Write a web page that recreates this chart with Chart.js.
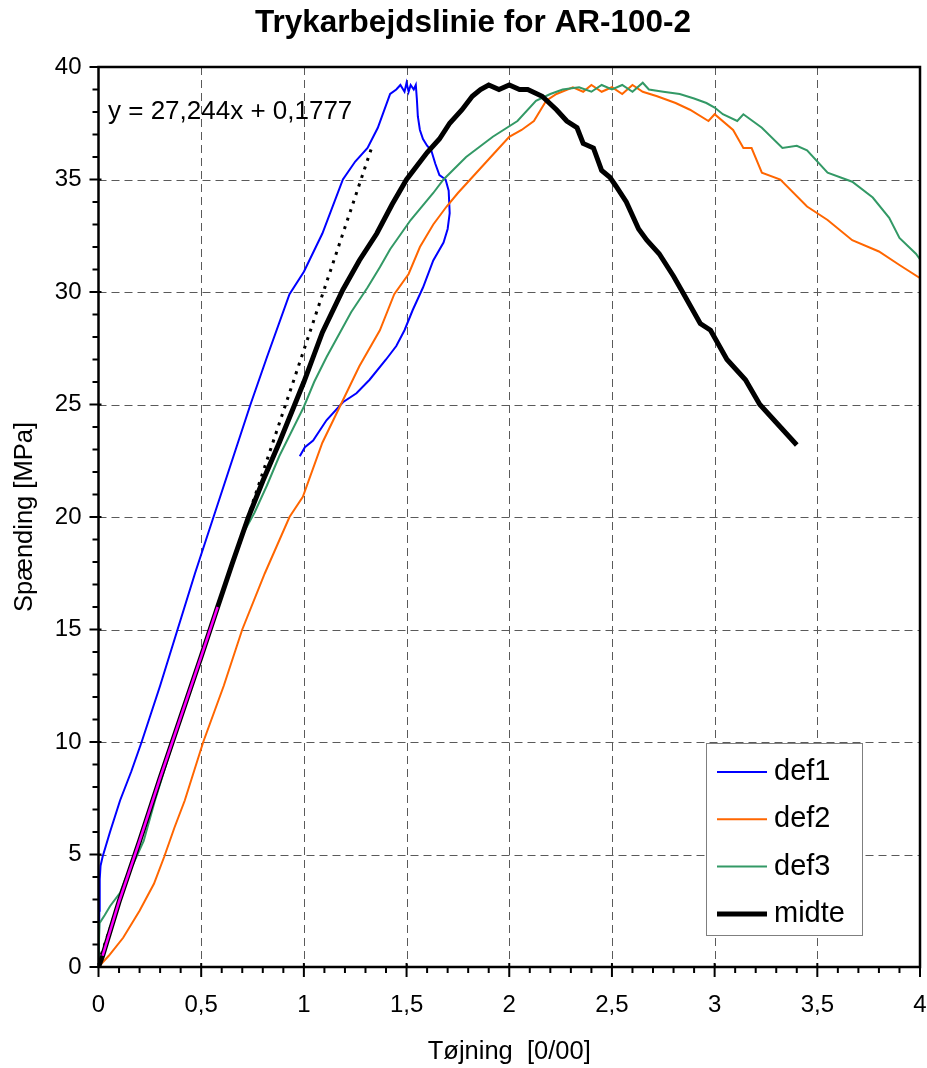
<!DOCTYPE html>
<html>
<head>
<meta charset="utf-8">
<title>Trykarbejdslinie for AR-100-2</title>
<script src="https://cdn.jsdelivr.net/npm/chart.js@4.4.1/dist/chart.umd.min.js"></script>
<style>
  html, body { margin: 0; padding: 0; background: #fff; }
  canvas { display: block; }
</style>
</head>
<body>
<canvas id="chart-stress" width="927" height="1068"></canvas>
<script>
// strain [0/00], stress [MPa] pairs
const def1 = [
    [0, 0], [0.002, 1.0], [0.004, 2.5], [0.006, 3.9], [0.01, 4.5], [0.02, 4.9], [0.056, 6.0],
    [0.105, 7.4], [0.16, 8.7], [0.21, 10], [0.3, 12.5], [0.385, 15], [0.47, 17.5], [0.56, 20],
    [0.65, 22.5], [0.74, 25], [0.82, 27.1], [0.93, 29.9], [1.0, 30.9], [1.09, 32.6], [1.19, 35],
    [1.25, 35.8], [1.31, 36.4], [1.36, 37.3], [1.42, 38.8], [1.45, 39.0], [1.47, 39.2], [1.49, 38.9],
    [1.5, 39.3], [1.51, 38.9], [1.52, 39.2], [1.535, 39.0], [1.545, 39.2], [1.55, 38.6], [1.555, 37.8],
    [1.565, 37.2], [1.58, 36.8], [1.6, 36.5], [1.62, 36.3], [1.64, 35.7], [1.66, 35.2], [1.69, 35.0],
    [1.705, 34.5], [1.71, 33.5], [1.7, 32.8], [1.68, 32.2], [1.63, 31.4], [1.58, 30.2], [1.53, 29.2],
    [1.49, 28.3], [1.45, 27.6], [1.4, 27.0], [1.32, 26.1], [1.256, 25.5], [1.19, 25.1], [1.11, 24.3],
    [1.045, 23.4], [1.005, 23.1], [0.98, 22.7],
];
const def2 = [
    [0, 0], [0.05, 0.5], [0.12, 1.3], [0.2, 2.5], [0.27, 3.7], [0.32, 4.9], [0.37, 6.2], [0.42, 7.4],
    [0.51, 10], [0.61, 12.5], [0.7, 15], [0.81, 17.5], [0.93, 20], [0.995, 20.9], [1.09, 23.3],
    [1.18, 25], [1.27, 26.7], [1.37, 28.3], [1.44, 29.9], [1.51, 30.8], [1.565, 32], [1.63, 33],
    [1.695, 33.8], [1.75, 34.4], [1.81, 35], [1.87, 35.6], [1.94, 36.3], [2.0, 36.9], [2.06, 37.2],
    [2.12, 37.6], [2.18, 38.5], [2.23, 38.8], [2.31, 39.1], [2.36, 38.9], [2.4, 39.2], [2.45, 38.9],
    [2.5, 39.1], [2.55, 38.8], [2.6, 39.2], [2.65, 38.9], [2.72, 38.7], [2.81, 38.4], [2.88, 38.1],
    [2.97, 37.6], [3.0, 37.9], [3.09, 37.2], [3.14, 36.4], [3.18, 36.4], [3.23, 35.3], [3.32, 35],
    [3.45, 33.8], [3.55, 33.2], [3.67, 32.3], [3.8, 31.8], [3.9, 31.2], [4.02, 30.5],
];
const def3 = [
    [0, 0], [0.002, 1.0], [0.005, 1.95], [0.03, 2.3], [0.056, 2.7], [0.105, 3.3], [0.13, 3.9],
    [0.17, 4.6], [0.22, 5.6], [0.275, 7.4], [0.35, 9.6], [0.45, 12.5], [0.55, 15.2], [0.62, 17],
    [0.7, 19.2], [0.76, 20.2], [0.82, 21.4], [0.88, 22.7], [0.94, 23.8], [1.0, 24.9], [1.05, 26],
    [1.11, 27.1], [1.17, 28.1], [1.23, 29.1], [1.31, 30.2], [1.37, 31.1], [1.42, 31.9], [1.52, 33.2],
    [1.63, 34.4], [1.68, 35], [1.79, 36], [1.92, 36.9], [2.04, 37.6], [2.13, 38.5], [2.2, 38.8],
    [2.26, 39], [2.34, 39.1], [2.4, 38.9], [2.45, 39.2], [2.5, 39.0], [2.55, 39.2], [2.6, 38.9],
    [2.65, 39.3], [2.68, 39.0], [2.75, 38.9], [2.83, 38.8], [2.9, 38.6], [2.96, 38.4], [3.0, 38.2],
    [3.04, 37.9], [3.11, 37.6], [3.14, 37.9], [3.23, 37.3], [3.33, 36.4], [3.4, 36.5], [3.45, 36.3],
    [3.55, 35.3], [3.67, 34.9], [3.77, 34.2], [3.85, 33.3], [3.9, 32.4], [3.98, 31.7], [4.02, 31.2],
];
const midte = [
    [0, 0], [0.02, 0.5], [0.1, 2.9], [0.2, 5.6], [0.3, 8.4], [0.4, 11.1], [0.5, 13.8], [0.58, 16],
    [0.65, 17.9], [0.73, 20], [0.8, 21.6], [0.88, 23.3], [1.0, 26], [1.045, 27.1], [1.09, 28.2],
    [1.19, 30.1], [1.27, 31.4], [1.355, 32.6], [1.43, 33.9], [1.5, 35], [1.6, 36.2], [1.66, 36.8],
    [1.71, 37.5], [1.77, 38.1], [1.82, 38.7], [1.86, 39], [1.9, 39.2], [1.95, 39.0], [2.0, 39.2],
    [2.05, 39.0], [2.09, 39.0], [2.16, 38.7], [2.23, 38.1], [2.28, 37.6], [2.33, 37.3], [2.36, 36.6],
    [2.41, 36.4], [2.45, 35.4], [2.49, 35.1], [2.52, 34.7], [2.57, 34.0], [2.63, 32.8], [2.67, 32.3],
    [2.73, 31.7], [2.8, 30.7], [2.85, 29.9], [2.93, 28.6], [2.98, 28.3], [3.06, 27], [3.15, 26.1],
    [3.22, 25], [3.29, 24.3], [3.36, 23.6], [3.4, 23.2],
];

// linear fit on the first part of "midte"
const fitRange = [0.02, 0.58];
const trendSlope = 27.244;
const trendIntercept = 0.1777;
const trendRange = [0, 1.33];
const trendLabel = "y = 27,244x + 0,1777";

const yTicks = [0, 5, 10, 15, 20, 25, 30, 35, 40];
const xTicks = [0, 0.5, 1, 1.5, 2, 2.5, 3, 3.5, 4];
const xTickLabels = ["0", "0,5", "1", "1,5", "2", "2,5", "3", "3,5", "4"];

const seriesNames = ["def1", "def2", "def3", "midte"];
const seriesColors = ["#0000ff", "#ff6600", "#339966", "#000000"];

const FONT = "'Liberation Sans', Arial, sans-serif";

const toPoints = (pairs) => pairs.map(([x, y]) => ({ x, y }));
const fitPoints = midte.filter(([x]) => x >= fitRange[0] && x <= fitRange[1]);
const trendPoints = trendRange.map((x) => [x, trendSlope * x + trendIntercept]);

// grid, frame, tick marks, equation and legend in Excel style
const excelFrame = {
    id: "excelFrame",
    beforeDatasetsDraw(chart) {
        const { ctx, chartArea: a, scales } = chart;
        ctx.save();
        ctx.strokeStyle = "#5a5a5a";
        ctx.lineWidth = 1;
        ctx.setLineDash([8, 5]);
        xTicks.slice(1, -1).forEach((v) => {
            const px = Math.round(scales.x.getPixelForValue(v)) + 0.5;
            ctx.beginPath();
            ctx.moveTo(px, a.top);
            ctx.lineTo(px, a.bottom);
            ctx.stroke();
        });
        yTicks.slice(1, -1).forEach((v) => {
            const py = Math.round(scales.y.getPixelForValue(v)) + 0.5;
            ctx.beginPath();
            ctx.moveTo(a.left, py);
            ctx.lineTo(a.right, py);
            ctx.stroke();
        });
        ctx.restore();
    },
    afterDraw(chart) {
        const { ctx, chartArea: a, scales } = chart;
        ctx.save();
        ctx.strokeStyle = "#000";
        ctx.lineWidth = 2.5;
        ctx.strokeRect(a.left, a.top, a.right - a.left, a.bottom - a.top);

        // tick marks
        ctx.lineWidth = 2;
        for (let i = 0; i <= 40; i++) {
            const py = scales.y.getPixelForValue(i);
            const major = i % 5 === 0;
            ctx.beginPath();
            ctx.moveTo(a.left - (major ? 9 : 6), py);
            ctx.lineTo(a.left + (major ? 3 : 0), py);
            ctx.stroke();
        }
        for (let i = 0; i <= 40; i++) {
            const px = scales.x.getPixelForValue(i / 10);
            const major = i % 5 === 0;
            ctx.beginPath();
            ctx.moveTo(px, a.bottom - (major ? 4 : 0));
            ctx.lineTo(px, a.bottom + (major ? 10 : 6));
            ctx.stroke();
        }

        // title
        ctx.fillStyle = "#000";
        ctx.font = `bold 31.5px ${FONT}`;
        ctx.textAlign = "center";
        ctx.textBaseline = "middle";
        ctx.fillText("Trykarbejdslinie for AR-100-2", 473, 23);

        // trendline equation
        ctx.font = `26px ${FONT}`;
        ctx.textAlign = "left";
        ctx.fillText(trendLabel, 108, 112);

        // legend
        const box = { left: 706, top: 743, width: 156, height: 192 };
        ctx.fillStyle = "#fff";
        ctx.fillRect(box.left, box.top, box.width, box.height);
        ctx.strokeStyle = "#7f7f7f";
        ctx.lineWidth = 1;
        ctx.strokeRect(box.left + 0.5, box.top + 0.5, box.width, box.height);
        ctx.font = `29px ${FONT}`;
        seriesNames.forEach((name, i) => {
            const y = box.top + 29 + i * 47.3;
            ctx.strokeStyle = seriesColors[i];
            ctx.lineWidth = name === "midte" ? 5 : 2;
            ctx.beginPath();
            ctx.moveTo(box.left + 11, y);
            ctx.lineTo(box.left + 61, y);
            ctx.stroke();
            ctx.fillStyle = "#000";
            ctx.fillText(name, box.left + 68, y);
        });
        ctx.restore();
    },
};

const lineSet = (label, pairs, color, width, extra) => ({
    label,
    data: toPoints(pairs),
    borderColor: color,
    backgroundColor: color,
    borderWidth: width,
    showLine: true,
    pointRadius: 0,
    tension: 0,
    ...extra,
});

const ctx = document.getElementById("chart-stress").getContext("2d");
new Chart(ctx, {
    type: "scatter",
    data: {
        datasets: [
            lineSet("fit", fitPoints, "#ff00ff", 2.5),
            lineSet("trend", trendPoints, "#000000", 3, { borderDash: [3, 6] }),
            lineSet("midte", midte, seriesColors[3], 5),
            lineSet("def3", def3, seriesColors[2], 2),
            lineSet("def2", def2, seriesColors[1], 2),
            lineSet("def1", def1, seriesColors[0], 2),
        ],
    },
    options: {
        responsive: false,
        animation: false,
        events: [],
        layout: { padding: { top: 67, right: 7, left: 0, bottom: 0 } },
        plugins: {
            legend: { display: false },
            tooltip: { enabled: false },
            title: { display: false },
        },
        scales: {
            x: {
                type: "linear",
                min: 0,
                max: 4,
                afterBuildTicks: (scale) => {
                    scale.ticks = xTicks.map((value) => ({ value }));
                },
                afterFit: (scale) => {
                    scale.height = 101;
                    // keep the last label from pushing the plot area in
                    scale.paddingLeft = 0;
                    scale.paddingRight = 0;
                },
                ticks: {
                    padding: 24,
                    color: "#000",
                    font: { family: FONT, size: 24 },
                    maxRotation: 0,
                    callback: (value) => xTickLabels[xTicks.indexOf(value)],
                },
                grid: { display: false, drawTicks: false },
                border: { display: false },
                title: {
                    display: true,
                    text: "Tøjning  [0/00]",
                    color: "#000",
                    font: { family: FONT, size: 25.5 },
                    padding: { top: 0, bottom: 1 },
                },
            },
            y: {
                type: "linear",
                min: 0,
                max: 40,
                afterBuildTicks: (scale) => {
                    scale.ticks = yTicks.map((value) => ({ value }));
                },
                afterFit: (scale) => {
                    scale.width = 98.5;
                },
                ticks: {
                    padding: 17,
                    color: "#000",
                    font: { family: FONT, size: 24 },
                },
                grid: { display: false, drawTicks: false },
                border: { display: false },
                title: {
                    display: true,
                    text: "Spænding [MPa]",
                    color: "#000",
                    font: { family: FONT, size: 25.5 },
                    padding: { top: 10, bottom: 0 },
                },
            },
        },
    },
    plugins: [excelFrame],
});
</script>
</body>
</html>
